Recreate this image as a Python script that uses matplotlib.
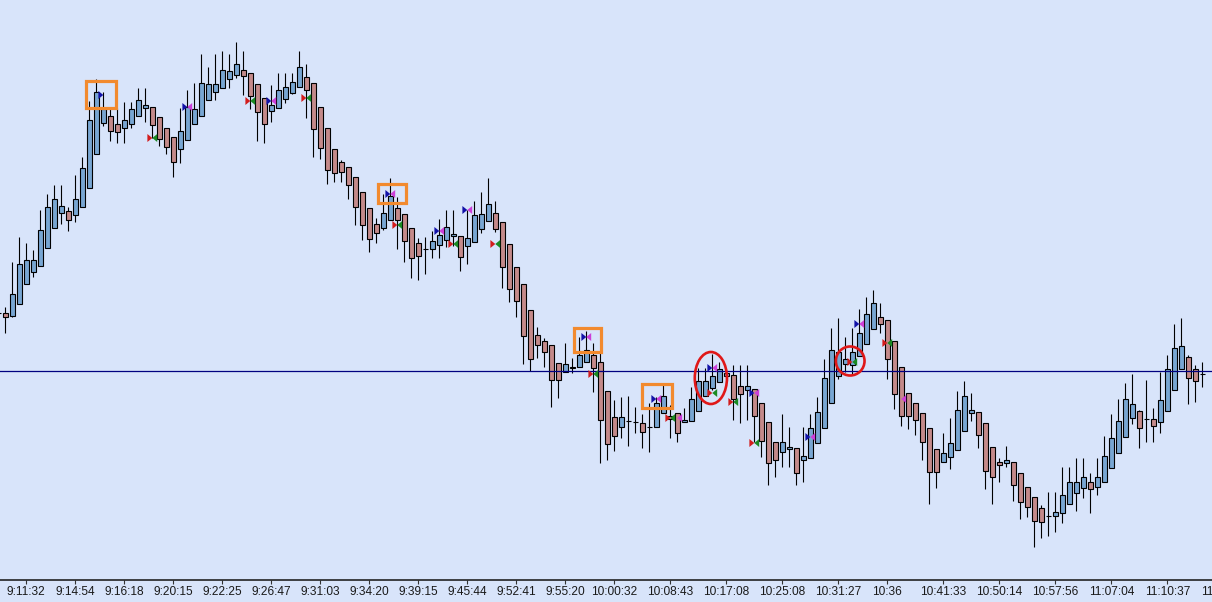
import numpy as np
import matplotlib.pyplot as plt
from matplotlib.patches import Rectangle, Ellipse, Polygon

# candle data (one row per bar, left to right; first bar is cut off by the edge)
opens = [287, 287, 284, 296, 316, 328, 334, 352, 372, 387, 389, 385, 393, 412, 446, 477, 484, 476, 472, 476,
         484, 492, 493, 483, 472, 463, 451, 460, 476, 484, 500, 508, 512, 521, 525, 530, 527, 516, 502, 489,
         492, 501, 507, 513, 523, 517, 493, 472, 451, 438, 433, 423, 408, 392, 376, 372, 380, 392, 386, 372,
         357, 351, 351, 355, 360, 364, 364, 354, 358, 371, 379, 387, 378, 356, 333, 316, 290, 265, 259, 255,
         237, 228, 232, 233, 238, 245, 238, 209, 183, 173, 179, 178, 177, 173, 173, 187, 184, 187, 178, 179,
         189, 204, 212, 218, 224, 225, 214, 210, 211, 197, 178, 158, 148, 151, 152, 140, 142, 157, 172, 197,
         224, 236, 235, 244, 256, 271, 283, 280, 259, 233, 207, 197, 187, 172, 151, 138, 143, 150, 169, 187,
         188, 177, 153, 138, 137, 138, 127, 113, 103, 92, 84, 84, 87, 96, 107, 112, 118, 113, 118, 132,
         147, 163, 182, 189, 181, 181, 178, 189, 210, 231, 243, 231, 226]
highs = [291, 293, 338, 363, 357, 350, 390, 406, 415, 415, 393, 425, 443, 499, 521, 508, 491, 492, 498, 498,
         512, 512, 493, 483, 472, 463, 492, 510, 517, 546, 533, 546, 549, 546, 558, 549, 527, 516, 502, 515,
         527, 527, 527, 549, 536, 517, 493, 472, 451, 440, 433, 423, 408, 392, 382, 406, 422, 403, 386, 372,
         362, 363, 369, 381, 390, 390, 364, 390, 399, 408, 422, 399, 378, 356, 333, 316, 290, 273, 262, 255,
         237, 257, 242, 263, 269, 257, 247, 209, 200, 203, 204, 193, 186, 197, 203, 217, 195, 187, 192, 213,
         232, 232, 246, 238, 231, 235, 235, 235, 211, 197, 178, 158, 186, 173, 152, 173, 186, 203, 241, 272,
         282, 263, 272, 291, 303, 310, 297, 280, 259, 233, 207, 197, 187, 172, 151, 167, 182, 209, 219, 207,
         188, 177, 153, 142, 154, 138, 127, 113, 103, 95, 108, 108, 133, 133, 142, 142, 127, 142, 164, 186,
         201, 217, 226, 190, 220, 192, 228, 245, 276, 282, 245, 235, 238]
lows = [282, 267, 283, 296, 316, 323, 334, 352, 372, 376, 369, 378, 393, 412, 446, 474, 459, 457, 457, 472,
        484, 478, 462, 454, 446, 423, 437, 460, 476, 484, 500, 500, 512, 512, 522, 505, 491, 459, 457, 478,
        492, 497, 506, 513, 482, 443, 441, 416, 418, 418, 401, 375, 360, 348, 357, 370, 380, 351, 338, 322,
        320, 326, 342, 342, 353, 354, 329, 336, 358, 367, 379, 368, 312, 298, 283, 236, 229, 242, 233, 193,
        202, 228, 227, 233, 238, 208, 137, 140, 149, 162, 154, 167, 152, 148, 173, 187, 162, 158, 178, 179,
        189, 204, 210, 218, 222, 180, 177, 180, 158, 143, 115, 123, 133, 133, 115, 118, 142, 157, 172, 197,
        221, 228, 225, 244, 256, 271, 267, 221, 191, 174, 171, 165, 140, 96, 112, 138, 131, 150, 169, 179,
        152, 111, 96, 118, 133, 99, 81, 83, 53, 62, 64, 68, 77, 96, 89, 102, 87, 105, 118, 132,
        147, 163, 176, 152, 158, 158, 167, 189, 210, 231, 196, 198, 213]
closes = [287, 283, 306, 336, 340, 340, 370, 393, 401, 394, 380, 401, 432, 480, 508, 491, 469, 468, 480, 491,
          500, 495, 475, 461, 453, 438, 469, 493, 491, 517, 516, 516, 530, 529, 536, 524, 504, 488, 476, 495,
          510, 513, 518, 533, 510, 471, 452, 430, 427, 428, 415, 393, 375, 361, 367, 387, 404, 380, 359, 342,
          344, 351, 359, 365, 373, 366, 343, 362, 385, 386, 396, 371, 333, 311, 299, 264, 241, 255, 248, 220,
          220, 236, 233, 245, 250, 232, 180, 156, 164, 183, 179, 178, 168, 173, 197, 204, 181, 167, 180, 201,
          219, 219, 224, 231, 227, 201, 206, 214, 184, 159, 137, 140, 158, 153, 127, 144, 172, 188, 222, 250,
          248, 241, 248, 267, 286, 297, 276, 241, 206, 184, 184, 180, 158, 128, 128, 147, 157, 190, 204, 190,
          165, 129, 123, 135, 140, 115, 98, 93, 79, 78, 84, 88, 105, 118, 118, 123, 111, 123, 144, 162,
          179, 201, 196, 172, 181, 174, 200, 231, 252, 254, 222, 219, 226]

ref_level = 229

# time labels on the bar axis
tick_bars = [4, 11, 18, 25, 32, 39, 46, 53, 60, 67, 74, 81, 88, 96, 104, 112, 120, 127,
             135, 143, 151, 159, 167]
tick_labels = ["9:11:32", "9:14:54", "9:16:18", "9:20:15", "9:22:25", "9:26:47", "9:31:03",
               "9:34:20", "9:39:15", "9:45:44", "9:52:41", "9:55:20", "10:00:32", "10:08:43",
               "10:17:08", "10:25:08", "10:31:27", "10:36", "10:41:33", "10:50:14", "10:57:56",
               "11:07:04", "11:10:37"]

# signal markers: bar, price, colour of the right-pointing half, colour of the left-pointing half
signals = [(15, 505, "blue", None), (22, 462, "red", "green"), (27, 493, "blue", "magenta"),
           (36, 499, "red", "green"), (39, 499, "blue", "magenta"), (44, 502, "red", "green"),
           (56, 406, "blue", "magenta"), (57, 375, "red", "green"), (63, 369, "blue", "magenta"),
           (65, 356, "red", "green"), (67, 390, "blue", "magenta"), (71, 356, "red", "green"),
           (84, 263, "blue", "magenta"), (85, 226, "red", "green"), (94, 201, "blue", "magenta"),
           (96, 182, "red", "green"), (97, 182, None, "magenta"), (102, 232, "blue", "magenta"),
           (102, 207, "red", "green"), (105, 198, "red", "green"), (108, 207, "blue", "magenta"),
           (108, 157, "red", "green"), (116, 163, "blue", "magenta"), (122, 238, "red", "green"),
           (123, 276, "blue", "magenta"), (127, 257, "red", "green"), (129, 201, None, "magenta")]

# highlight boxes (bar from, bar to, price from, price to) and ellipses (bar, price, w, h)
boxes = [(12.5, 16.8, 492, 519.5), (54.2, 58.2, 397, 416), (82.2, 86.1, 248, 272), (91.9, 96.3, 192, 216)]
rings = [(101.8, 222, 4.6, 52), (121.7, 239, 4.1, 29)]

sig_colors = {"blue": "#1212a8", "magenta": "#cc3fd8", "red": "#d21c1c", "green": "#1a8a22"}
bg = "#d8e4fa"
up_col = "#78a6d2"
down_col = "#c48a8a"

o = np.array(opens, float)
h = np.array(highs, float)
l = np.array(lows, float)
c = np.array(closes, float)
x = np.arange(len(o))

fig = plt.figure(figsize=(12.12, 6.02), dpi=100, facecolor=bg)
ax = fig.add_axes([0, 22 / 602, 1, 580 / 602], facecolor=bg)

ax.vlines(x, l, h, color="black", linewidth=0.8, zorder=2)
body_col = np.where(c > o, up_col, np.where(c < o, down_col, "black"))
ax.bar(x, np.abs(c - o), bottom=np.minimum(o, c), width=0.7, color=body_col,
       edgecolor="black", linewidth=0.8, zorder=3)

ax.axhline(ref_level, color="#000080", linewidth=0.9, zorder=4)

tw, th = 0.7, 4.0
for bar, price, left, right in signals:
    if left:
        ax.add_patch(Polygon([(bar - tw, price + th), (bar - tw, price - th), (bar, price)],
                             closed=True, color=sig_colors[left], zorder=5, lw=0))
    if right:
        ax.add_patch(Polygon([(bar + tw, price + th), (bar + tw, price - th), (bar, price)],
                             closed=True, color=sig_colors[right], zorder=5, lw=0))

for x0, x1, p0, p1 in boxes:
    ax.add_patch(Rectangle((x0, p0), x1 - x0, p1 - p0, fill=False, edgecolor="#f28a2e",
                           linewidth=2.3, zorder=6))
for bx, bp, w, hh in rings:
    ax.add_patch(Ellipse((bx, bp), w, hh, fill=False, edgecolor="#e01818", linewidth=1.9, zorder=6))

ax.set_xlim(0.243, 173.39)
ax.set_ylim(20, 600)
ax.set_xticks(tick_bars)
ax.set_xticklabels(tick_labels, fontsize=8.6, family="Liberation Sans", color="#1a1a1a")
ax.tick_params(axis="x", direction="out", length=3, width=0.8, pad=1.5, color="#333333")
ax.set_yticks([])
for s in ["top", "left", "right"]:
    ax.spines[s].set_visible(False)
ax.spines["bottom"].set_linewidth(1.2)
ax.spines["bottom"].set_color("#222222")

# next label, mostly beyond the right edge
ax.text(175, -0.011, "11:14:52", transform=ax.get_xaxis_transform(), ha="center", va="top",
        fontsize=8.6, family="Liberation Sans", color="#1a1a1a", clip_on=False)

fig.savefig("out.png", dpi=100, facecolor=bg)
